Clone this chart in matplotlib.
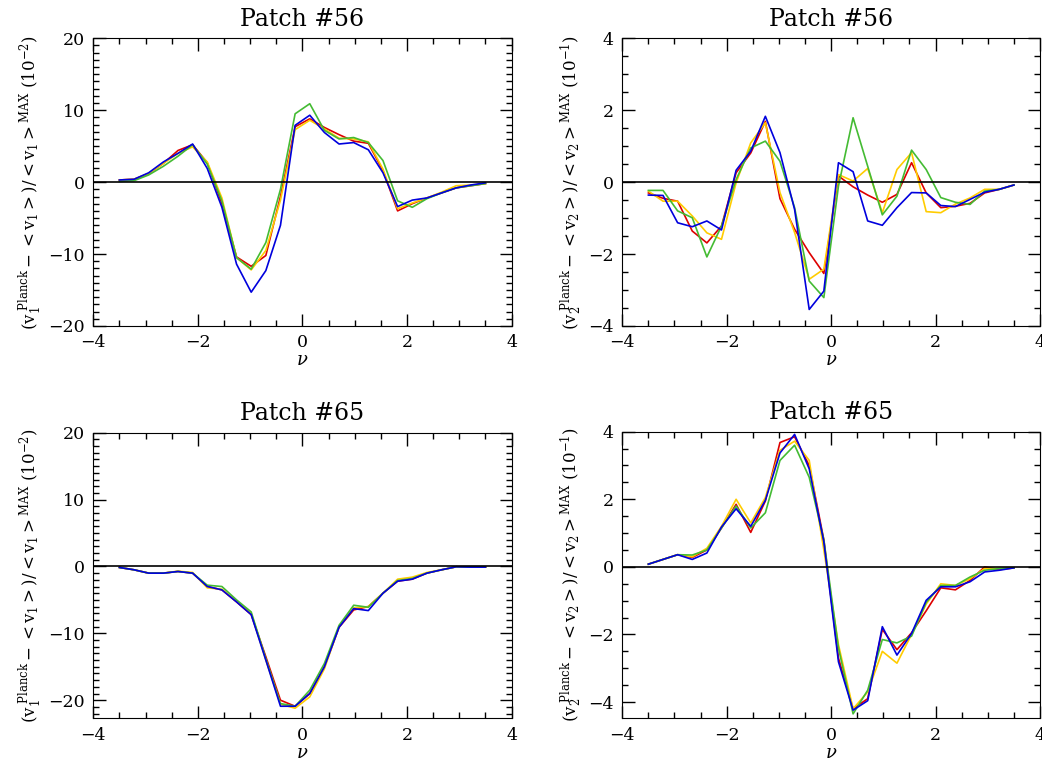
import matplotlib
matplotlib.use("Agg")
import matplotlib.pyplot as plt
import numpy as np
from matplotlib.ticker import MultipleLocator

plt.rcParams['font.family'] = ['DejaVu Serif']
plt.rcParams['mathtext.fontset'] = 'dejavuserif'

# threshold values nu, 26 points from -3.5 to 3.5
nu = np.linspace(-3.5, 3.5, 26)

# Patch #56, v1 (units of 1e-2)
p56_v1_red = [0.3, 0.4, 1.2, 2.6, 4.4, 5.2, 2.7, -3.0, -10.4, -11.7, -10.2, -2.0, 7.7, 8.8, 7.6, 6.6,
              5.7, 5.4, 1.6, -4.0, -3.0, -2.2, -1.5, -0.8, -0.5, -0.2]
p56_v1_yellow = [0.3, 0.4, 1.2, 2.6, 4.0, 4.9, 2.8, -2.2, -10.5, -12.2, -9.5, -2.5, 7.3, 8.6, 7.4, 6.1,
                 6.0, 5.6, 1.8, -3.7, -2.9, -2.2, -1.4, -0.5, -0.4, -0.2]
p56_v1_green = [0.1, 0.2, 1.0, 2.2, 3.6, 5.2, 2.5, -2.6, -10.5, -12.1, -8.4, -1.0, 9.5, 10.9, 7.2, 6.0,
                6.2, 5.5, 3.0, -2.6, -3.5, -2.3, -1.5, -0.8, -0.5, -0.2]
p56_v1_blue = [0.3, 0.4, 1.3, 2.8, 4.0, 5.3, 1.9, -3.5, -11.4, -15.3, -12.3, -6.0, 7.9, 9.3, 6.9, 5.3,
               5.5, 4.5, 1.3, -3.4, -2.5, -2.2, -1.5, -0.8, -0.4, -0.1]

# Patch #56, v2 (units of 1e-1)
p56_v2_red = [-0.3, -0.45, -0.53, -1.36, -1.69, -1.22, 0.26, 0.81, 1.69, -0.46, -1.31, -1.96, -2.54, 0.17,
              -0.13, -0.36, -0.56, -0.34, 0.54, -0.3, -0.71, -0.67, -0.59, -0.3, -0.2, -0.08]
p56_v2_yellow = [-0.25, -0.53, -0.53, -0.94, -1.41, -1.59, -0.02, 1.09, 1.65, -0.29, -1.4, -2.7, -2.42, 0.21,
                 0.03, 0.38, -0.85, 0.35, 0.82, -0.82, -0.85, -0.61, -0.44, -0.2, -0.2, -0.08]
p56_v2_green = [-0.23, -0.23, -0.8, -0.99, -2.08, -1.22, 0.07, 0.95, 1.14, 0.58, -0.71, -2.75, -3.21, -0.11,
                1.79, 0.44, -0.91, -0.39, 0.89, 0.35, -0.43, -0.56, -0.62, -0.25, -0.2, -0.08]
p56_v2_blue = [-0.36, -0.37, -1.13, -1.24, -1.08, -1.33, 0.33, 0.86, 1.83, 0.82, -0.76, -3.54, -3.03, 0.54,
               0.29, -1.08, -1.2, -0.71, -0.29, -0.3, -0.65, -0.68, -0.48, -0.28, -0.2, -0.08]

# Patch #65, v1 (units of 1e-2)
p65_v1_red = [-0.15, -0.5, -1.0, -1.0, -0.75, -1.0, -3.0, -3.5, -5.3, -7.2, -13.5, -20.0, -20.9, -19.0,
              -15.0, -9.1, -6.5, -6.0, -4.0, -2.2, -1.9, -1.0, -0.5, -0.05, -0.1, -0.1]
p65_v1_yellow = [-0.15, -0.5, -1.0, -1.0, -0.7, -0.9, -3.2, -3.4, -5.2, -7.0, -14.0, -20.6, -21.2, -19.5,
                 -15.3, -9.0, -6.2, -6.0, -4.0, -1.9, -1.6, -0.9, -0.5, -0.05, -0.1, -0.1]
p65_v1_green = [-0.15, -0.5, -1.0, -1.0, -0.75, -1.0, -2.8, -3.0, -5.0, -6.8, -13.8, -20.5, -20.9, -18.5,
                -14.5, -8.8, -5.8, -6.1, -4.0, -2.1, -1.8, -1.0, -0.5, -0.05, -0.1, -0.1]
p65_v1_blue = [-0.15, -0.5, -1.0, -1.0, -0.75, -1.0, -3.0, -3.5, -5.3, -7.2, -14.0, -20.9, -20.9, -19.0,
               -15.0, -9.1, -6.3, -6.6, -4.0, -2.2, -1.9, -1.0, -0.5, -0.05, -0.1, -0.1]

# Patch #65, v2 (units of 1e-1)
p65_v2_red = [0.08, 0.22, 0.36, 0.28, 0.5, 1.15, 1.85, 1.02, 1.95, 3.68, 3.85, 3.0, 0.8, -2.7, -4.2, -3.9,
              -1.85, -2.45, -1.95, -1.3, -0.62, -0.68, -0.4, 0.0, -0.08, -0.03]
p65_v2_yellow = [0.08, 0.22, 0.36, 0.3, 0.55, 1.2, 2.0, 1.3, 2.05, 3.45, 3.72, 3.15, 0.5, -2.3, -4.2, -3.7,
                 -2.5, -2.85, -2.0, -1.1, -0.5, -0.55, -0.35, -0.05, -0.05, -0.03]
p65_v2_green = [0.08, 0.22, 0.36, 0.35, 0.5, 1.15, 1.8, 1.15, 1.6, 3.15, 3.6, 2.65, 0.8, -2.4, -4.35, -3.65,
                -2.15, -2.25, -2.05, -1.05, -0.55, -0.55, -0.3, -0.1, -0.05, -0.03]
p65_v2_blue = [0.08, 0.22, 0.36, 0.22, 0.41, 1.18, 1.72, 1.2, 1.97, 3.37, 3.92, 2.9, 0.74, -2.81, -4.24, -3.96,
               -1.77, -2.61, -1.97, -0.99, -0.59, -0.59, -0.44, -0.15, -0.1, -0.03]

colors = ['#dd0000', '#ffcc00', '#44bb33', '#0000dd']

ylab1 = r'$(\mathrm{v}_1^{\ \mathrm{Planck}}-<\mathrm{v}_1>)/<\mathrm{v}_1>^{\mathrm{MAX}}\ (10^{-2})$'
ylab2 = r'$(\mathrm{v}_2^{\ \mathrm{Planck}}-<\mathrm{v}_2>)/<\mathrm{v}_2>^{\mathrm{MAX}}\ (10^{-1})$'

panels = [
    ('Patch #56', [p56_v1_red, p56_v1_yellow, p56_v1_green, p56_v1_blue], (-20, 20), 10, 1, ylab1,
     [0.0895, 0.5799, 0.4015, 0.3708]),
    ('Patch #56', [p56_v2_red, p56_v2_yellow, p56_v2_green, p56_v2_blue], (-4, 4), 2, 0.5, ylab2,
     [0.5972, 0.5799, 0.4009, 0.3708]),
    ('Patch #65', [p65_v1_red, p65_v1_yellow, p65_v1_green, p65_v1_blue], (-22.7, 20), 10, 1, ylab1,
     [0.0895, 0.0744, 0.4015, 0.3680]),
    ('Patch #65', [p65_v2_red, p65_v2_yellow, p65_v2_green, p65_v2_blue], (-4.48, 4), 2, 0.5, ylab2,
     [0.5972, 0.0744, 0.4009, 0.3693]),
]

fig = plt.figure(figsize=(10.42, 7.76), dpi=100)
for title, series, ylim, major, minor, ylab, rect in panels:
    ax = fig.add_axes(rect)
    for vals, c in zip(series, colors):
        ax.plot(nu, vals, color=c, lw=1.2)
    ax.axhline(0, color='black', lw=1.2)
    ax.set_xlim(-4, 4)
    ax.set_ylim(*ylim)
    ax.xaxis.set_major_locator(MultipleLocator(2))
    ax.xaxis.set_minor_locator(MultipleLocator(0.5))
    ax.yaxis.set_major_locator(MultipleLocator(major))
    ax.yaxis.set_minor_locator(MultipleLocator(minor))
    ax.tick_params(which='both', direction='in', top=True, right=True, labelsize=12.5, pad=6)
    ax.tick_params(which='major', length=9, width=1)
    ax.tick_params(which='minor', length=4.5, width=1)
    ax.set_title(title, fontsize=17, pad=9)
    ax.set_xlabel(r'$\nu$', fontsize=13, labelpad=0)
    ax.set_ylabel(ylab, fontsize=12, labelpad=3)

fig.savefig('out.png', dpi=100)
